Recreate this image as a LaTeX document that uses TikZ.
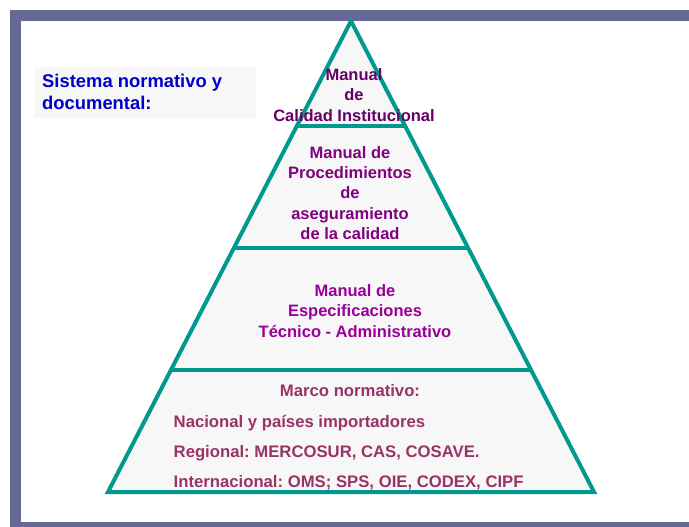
\documentclass[tikz,border=0pt]{standalone}
\usepackage{fontspec}
\setmainfont{Liberation Sans}
\frenchspacing
\definecolor{framec}{HTML}{686898}
\definecolor{tealc}{HTML}{00998F}
\definecolor{fillc}{HTML}{F7F7F7}
\definecolor{bluec}{HTML}{0000CC}
\definecolor{purA}{HTML}{660066}
\definecolor{purB}{HTML}{800080}
\definecolor{purC}{HTML}{990099}
\definecolor{marC}{HTML}{993366}
\tikzset{
  lvl/.style={font=\fontsize{16.5}{20.3}\selectfont\bfseries, align=center, inner sep=0pt},
  basetxt/.style={font=\fontsize{16.7}{20}\selectfont\bfseries, text=marC, inner sep=0pt, anchor=base west},
  edge/.style={draw=tealc, line width=4pt}
}
\begin{document}
\begin{tikzpicture}[x=1pt,y=-1pt]
\useasboundingbox (0,0) rectangle (689,527);
\clip (0,0) rectangle (689,527);
\fill[white] (0,0) rectangle (689,527);
% frame
\draw[framec, line width=11pt] (15.5,15.5) rectangle (720,527.5);
% title box
\fill[fillc] (35,67) rectangle (256,118);
\node[font=\fontsize{18.4}{21.5}\selectfont\bfseries, text=bluec, align=left, anchor=base west, inner sep=0pt] (title) at (42,109.5) {Sistema normativo y\\documental:};
% pyramid
\coordinate (apex) at (351,21);
\coordinate (bl) at (108,492);
\coordinate (br) at (594,492);
\fill[fillc] (apex) -- (br) -- (bl) -- cycle;
\coordinate (l1) at (296.8,126); \coordinate (r1) at (405.2,126);
\coordinate (l2) at (233.8,248); \coordinate (r2) at (468.2,248);
\coordinate (l3) at (170.9,370); \coordinate (r3) at (531.1,370);
\draw[edge] (l1) -- (r1);
\draw[edge] (l2) -- (r2);
\draw[edge] (l3) -- (r3);
\draw[edge, line join=miter] (apex) -- (br) -- (bl) -- cycle;
% texts
\node[lvl, text=purA] (t1) at (354,95) {Manual\\de\\Calidad Institucional};
\node[lvl, text=purB] (t2) at (350,193) {Manual de\\Procedimientos\\de\\aseguramiento\\de la calidad};
\node[lvl, text=purC] (t3) at (355,311) {Manual de\\Especificaciones\\Técnico - Administrativo};
\node[font=\fontsize{16.7}{20}\selectfont\bfseries, text=marC, inner sep=0pt, anchor=base] (t4) at (350,396.7) {Marco normativo:};
\node[basetxt] (t5) at (173.5,427.7) {Nacional y países importadores};
\node[basetxt] (t6) at (173.5,457.7) {Regional: MERCOSUR, CAS, COSAVE.};
\node[basetxt] (t7) at (173.5,487.3) {Internacional: OMS; SPS, OIE, CODEX, CIPF};
\end{tikzpicture}
\end{document}
